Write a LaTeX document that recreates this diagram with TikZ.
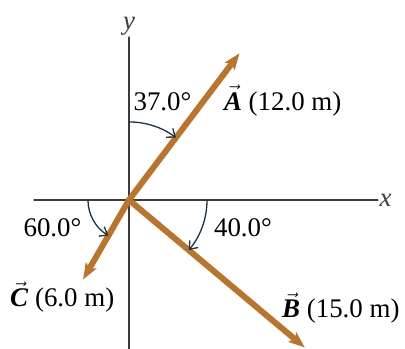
\documentclass[tikz,border=0pt]{standalone}
\usepackage{fontspec}
\setmainfont{Liberation Serif}
\usetikzlibrary{arrows.meta}
\definecolor{vecbrown}{RGB}{186,116,44}
\definecolor{arcblue}{RGB}{28,50,72}
\definecolor{axisgray}{RGB}{60,60,60}
\begin{document}
\begin{tikzpicture}[x=15.3bp, y=15.3bp, line join=round, line cap=round,
    vec/.style={line width=6bp, draw=vecbrown, -{Stealth[length=16bp, width=12bp, inset=3bp]}},
    ang/.style={draw=arcblue, line width=1.3bp, -{Straight Barb[length=7bp, width=11bp]}},
    lbl/.style={font=\fontsize{27}{30}\selectfont, inner sep=0pt}]
\useasboundingbox (-8.43,-9.74) rectangle (18.04,13.07);
        \def\ra{5.1} \def\rc{2.68}
\coordinate (O) at (0,0);
\coordinate (A) at (53:12);
\coordinate (B) at (-40:15);
\coordinate (C) at (240:6);
% axes
        \draw[axisgray, line width=1.3bp] (0,-9.74) -- (0,10.65) node[lbl, above=1bp]{\textit{y}};
        \draw[axisgray, line width=1.3bp] (-6.21,0) -- (16.27,0) node[lbl, right=1bp]{\textit{x}};
% vectors
        \draw[vec] (O) -- (C);
        \draw[vec] (O) -- (B);
        \draw[vec] (O) -- (A);
% angles
        \draw[ang] (90:\ra) arc (90:53:\ra);
        \draw[ang] (180:\rc) arc (180:240:\rc);
        \draw[ang] (0:\ra) arc (0:-40:\ra);
\node[lbl, anchor=base] (angA) at (2.19,5.88) {37.0°};
\node[lbl, anchor=base] (angC) at (-5.0,-2.42) {60.0°};
\node[lbl, anchor=base] (angB) at (7.45,-2.42) {40.0°};
\node[lbl, anchor=base west] (labA) at (6.2,5.88) {$\vec{\textbf{\textit{A}}}$ (12.0 m)};
\node[lbl, anchor=base west] (labC) at (-7.78,-6.99) {$\vec{\textbf{\textit{C}}}$ (6.0 m)};
\node[lbl, anchor=base west] (labB) at (10.0,-7.65) {$\vec{\textbf{\textit{B}}}$ (15.0 m)};
    \end{tikzpicture}
\end{document}
